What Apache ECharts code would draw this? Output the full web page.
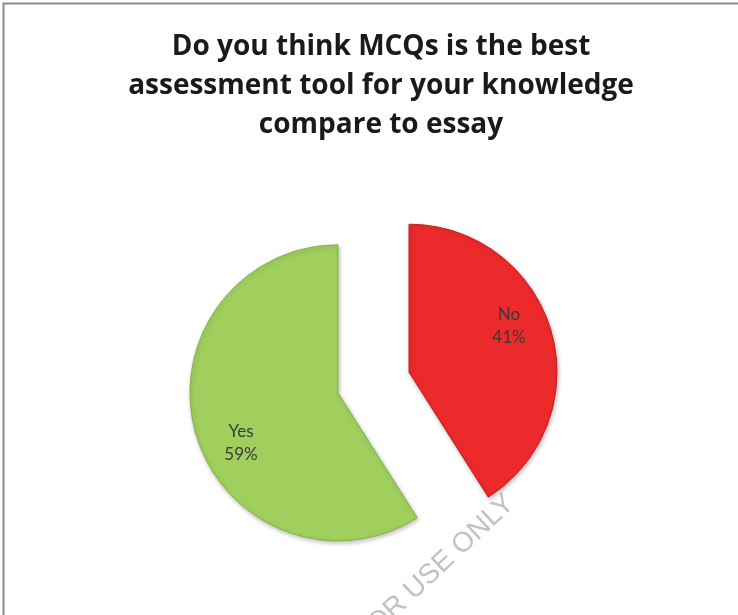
<!DOCTYPE html>
<html>
<head>
<meta charset="utf-8">
<script src="https://cdn.jsdelivr.net/npm/echarts@6/dist/echarts.min.js"></script>
<style>
  html, body { margin: 0; padding: 0; background: #ffffff; }
  #chart { width: 738px; height: 615px; }
</style>
</head>
<body>
<div id="chart"></div>
<script>
// Survey answers and their shares (percent)
const categories = ['No', 'Yes'];
const shares = [41, 59];
const sliceColors = ['#ED2A2B', '#A0CF5E'];
const sliceEdges = ['#C81E20', '#86B446'];
const titleLines = ['Do you think MCQs is the best', 'assessment tool for your knowledge', 'compare to essay'];

// Small nudges so each label sits where it reads best inside its slice
const labelNudge = [[26, -25], [-23, 29]];

const chart = echarts.init(document.getElementById('chart'), null, { renderer: 'canvas' });

const data = categories.map((name, i) => ({
  name: name,
  value: shares[i],
  selected: true,
  itemStyle: {
    color: sliceColors[i],
    borderColor: sliceEdges[i],
    borderWidth: 1,
    shadowColor: 'rgba(0,0,0,0.25)',
    shadowBlur: 4,
    shadowOffsetX: 1,
    shadowOffsetY: 2
  }
}));

const wmAngle = 43 * Math.PI / 180;

chart.setOption({
  backgroundColor: '#ffffff',
  animation: false,
  title: {
    text: titleLines.join('\n'),
    left: 376,
    top: 23,
    textAlign: 'center',
    textStyle: {
      fontFamily: 'Open Sans',
      fontWeight: 'bold',
      fontSize: 28,
      lineHeight: 39,
      color: '#1a1a1a'
    }
  },
  graphic: [
    {
      type: 'rect',
      silent: true,
      shape: { x: 3.5, y: 3.5, width: 760, height: 640 },
      style: { fill: 'none', stroke: '#8c8c8c', lineWidth: 2 }
    },
    {
      type: 'text',
      silent: true,
      x: 520, y: 510,
      rotation: wmAngle,
      style: {
        text: 'FOR USE ONLY',
        fontFamily: 'Liberation Sans',
        fontSize: 28,
        fill: '#c2c2c2',
        textAlign: 'right',
        textVerticalAlign: 'bottom'
      }
    }
  ],
  series: [{
    type: 'pie',
    center: [373.5, 382.5],
    radius: 148,
    startAngle: 90,
    clockwise: true,
    selectedMode: 'multiple',
    selectedOffset: 37,
    emphasis: { disabled: true },
    label: {
      show: true,
      position: 'inside',
      formatter: p => p.name + '\n' + p.value + '%',
      fontFamily: 'Lato',
      fontSize: 17,
      lineHeight: 23,
      color: '#3a3a3a'
    },
    labelLine: { show: false },
    labelLayout: function (params) {
      const n = labelNudge[params.dataIndex];
      return { dx: n[0], dy: n[1] };
    },
    data: data
  }]
});
</script>
</body>
</html>
